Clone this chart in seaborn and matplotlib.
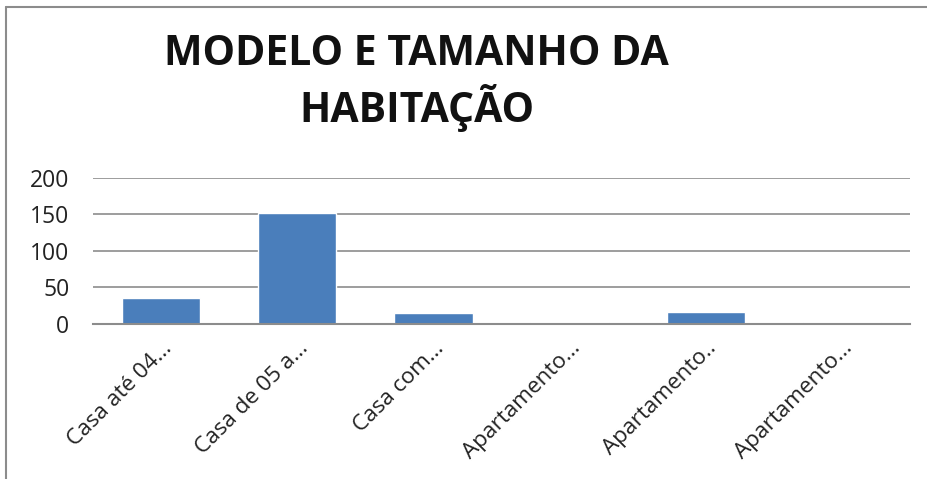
import matplotlib
matplotlib.use("Agg")
import matplotlib.pyplot as plt
import seaborn as sns
import pandas as pd
from matplotlib.lines import Line2D

categories = ["Casa até 04...", "Casa de 05 a...", "Casa com...", "Apartamento...", "Apartamento..", "Apartamento..."]
values = [36, 152, 15, 3, 17, 3]
yticks = [0, 50, 100, 150, 200]
title = "MODELO E TAMANHO DA\nHABITAÇÃO"

sns.set_theme(style="white")
plt.rcParams['font.family'] = ['Open Sans', 'DejaVu Sans']

df = pd.DataFrame({"cat": [f"{i}" for i in range(len(categories))], "val": values})

fig = plt.figure(figsize=(9.28, 4.79), dpi=100)
ax = fig.add_axes([0.1002, 0.3236, 0.8804, 0.3048])
sns.barplot(data=df, x="cat", y="val", color="#4a7ebb", saturation=1, width=0.575, ax=ax)
ax.set_ylim(0, 200)
ax.set_yticks(yticks)
ax.set_yticklabels([str(t) for t in yticks], fontsize=16.5, color="#222222")
ax.set_xticks(range(len(categories)))
ax.set_xticklabels(categories, rotation=45, ha="right", rotation_mode="anchor", fontsize=16.2, color="#222222")
ax.set_xlabel("")
ax.set_ylabel("")
ax.tick_params(axis="y", length=0, pad=17)
ax.tick_params(axis="x", length=0, pad=10)
ax.yaxis.grid(True, color="#8c8c8c", linewidth=1.2)
ax.set_axisbelow(True)
for s in ["left", "right", "top"]:
    ax.spines[s].set_visible(False)
ax.spines["bottom"].set_color("#8c8c8c")
ax.spines["bottom"].set_linewidth(1.5)

fig.text(0.449, 0.826, title, ha="center", va="center", fontsize=29.5, fontweight="bold",
         color="#111111", linespacing=1.24)

fig.add_artist(Line2D([6.5/928, 6.5/928], [0, 1 - 7/479], transform=fig.transFigure, color="#8c8c8c", linewidth=1.5))
fig.add_artist(Line2D([6.5/928, 1], [1 - 7/479, 1 - 7/479], transform=fig.transFigure, color="#8c8c8c", linewidth=1.5))

fig.savefig("out.png", dpi=100)
